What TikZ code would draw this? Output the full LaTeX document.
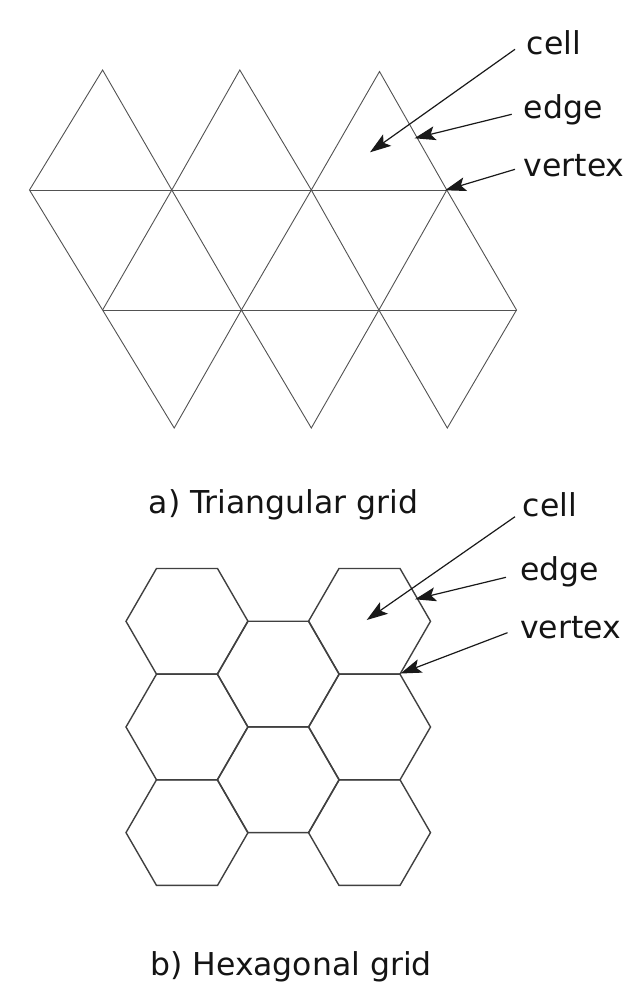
\documentclass[tikz,border=0pt]{standalone}
\usepackage{fontspec}
\setmainfont{DejaVu Sans}
\usetikzlibrary{arrows.meta,calc}
\begin{document}
\begin{tikzpicture}[x=1pt,y=-1pt,
  tri/.style={draw=black!68, line width=0.9pt, line join=miter},
  hexl/.style={draw=black!75, line width=1.4pt, line join=miter},
  lbl/.style={font=\fontsize{31.5}{36}\selectfont, inner sep=0pt, anchor=base west, text=black!92},
  ptr/.style={draw=black!90, line width=1.2pt, -{Stealth[length=21pt,width=14pt,inset=4.5pt]}}]
\useasboundingbox (0,0) rectangle (622,982);

% ---------- triangular grid ----------
\coordinate (t1) at (102.6,70);
\coordinate (t2) at (239.8,70);
\coordinate (t3) at (379.5,71.5);
\coordinate (m0) at (29.5,190);
\coordinate (m1) at (171.8,190);
\coordinate (m2) at (311.3,190);
\coordinate (m3) at (446.8,190);
\coordinate (l0) at (102.6,310);
\coordinate (l1) at (241.4,310);
\coordinate (l2) at (378.9,310);
\coordinate (l3) at (516.5,310);
\coordinate (b1) at (174.2,428);
\coordinate (b2) at (311.3,428);
\coordinate (b3) at (447.3,428);

\draw[tri] (m0) -- (m3);
\draw[tri] (l0) -- (l3);
\draw[tri] (m0) -- (t1) -- (m1) -- (t2) -- (m2) -- (t3) -- (m3) -- (l3) -- (b3)
  -- (l2) -- (b2) -- (l1) -- (b1) -- (l0) -- cycle;
\draw[tri] (m1) -- (l0);
\draw[tri] (m1) -- (l1);
\draw[tri] (m2) -- (l1);
\draw[tri] (m2) -- (l2);
\draw[tri] (m3) -- (l2);

% labels and arrows (triangular)
\node[lbl] (tcell) at (526.6,55) {cell};
\node[lbl] (tedge) at (523.5,118) {edge};
\node[lbl] (tvert) at (523.5,176) {vertex};
\coordinate (tcellS) at (515,49.3);
\coordinate (tedgeS) at (511.7,114.3);
\coordinate (tvertS) at (515,169.3);
\coordinate (tcellT) at (370,152.3);
\coordinate (tedgeT) at (414.5,138.3);
\coordinate (tvertT) at (445,190.3);
\draw[ptr] (tcellS) -- (tcellT);
\draw[ptr] (tedgeS) -- (tedgeT);
\draw[ptr] (tvertS) -- (tvertT);

\node[lbl] (ttitle) at (148.5,513) {a) Triangular grid};

% ---------- hexagonal grid ----------
\def\hx#1{\draw[hexl] (#1) ++(61,0) -- ++(-30.5,52.83) -- ++(-61,0) -- ++(-30.5,-52.83)
  -- ++(30.5,-52.83) -- ++(61,0) -- cycle;}
\coordinate (hL1) at (187,621.3);
\coordinate (hL2) at (187,727.0);
\coordinate (hL3) at (187,832.6);
\coordinate (hM1) at (278.25,674.1);
\coordinate (hM2) at (278.25,779.8);
\coordinate (hR1) at (369.5,621.3);
\coordinate (hR2) at (369.5,727.0);
\coordinate (hR3) at (369.5,832.6);
\hx{hL1}\hx{hL2}\hx{hL3}\hx{hM1}\hx{hM2}\hx{hR1}\hx{hR2}\hx{hR3}

% labels and arrows (hexagonal)
\node[lbl] (hcell) at (522.5,516.7) {cell};
\node[lbl] (hedge) at (520,580) {edge};
\node[lbl] (hvert) at (520,638) {vertex};
\coordinate (hcellS) at (515,516.7);
\coordinate (hedgeS) at (506,577.3);
\coordinate (hvertS) at (507.5,632.7);
\coordinate (hcellT) at (366.7,620);
\coordinate (hedgeT) at (415,599.3);
\coordinate (hvertT) at (400.5,673.5);
\draw[ptr] (hcellS) -- (hcellT);
\draw[ptr] (hedgeS) -- (hedgeT);
\draw[ptr] (hvertS) -- (hvertT);

\node[lbl] (htitle) at (150,975) {b) Hexagonal grid};
\end{tikzpicture}
\end{document}
